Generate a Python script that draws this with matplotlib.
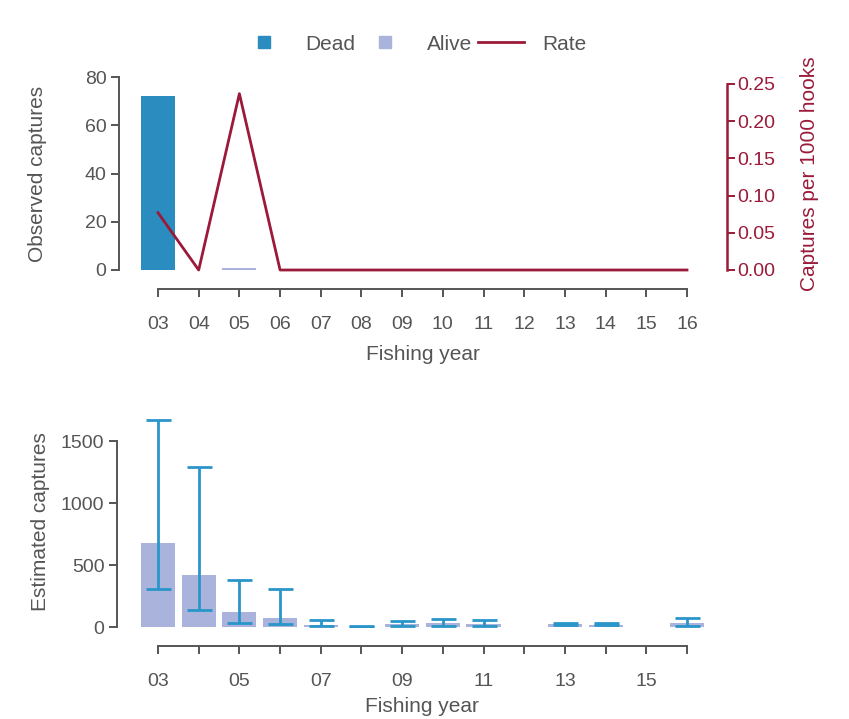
import numpy as np
import matplotlib.pyplot as plt
from matplotlib.lines import Line2D

plt.rcParams['font.family'] = ['Liberation Sans', 'DejaVu Sans']

# values
years = [3, 4, 5, 6, 7, 8, 9, 10, 11, 12, 13, 14, 15, 16]
year_labels = ['03', '04', '05', '06', '07', '08', '09', '10', '11', '12', '13', '14', '15', '16']
dead = [72, 0, 0, 0, 0, 0, 0, 0, 0, 0, 0, 0, 0, 0]
alive = [0, 0, 1, 0, 0, 0, 0, 0, 0, 0, 0, 0, 0, 0]
rate = [0.077, 0.0, 0.237, 0.0, 0.0, 0.0, 0.0, 0.0, 0.0, 0.0, 0.0, 0.0, 0.0, 0.0]

est_years = [3, 4, 5, 6, 7, 8, 9, 10, 11, 13, 14, 16]
est_mean = [680, 420, 120, 70, 15, 3, 25, 30, 25, 25, 20, 30]
est_low = [310, 140, 30, 25, 5, 0, 10, 10, 10, 20, 15, 10]
est_high = [1670, 1290, 380, 310, 60, 10, 45, 65, 60, 35, 30, 75]

DEAD = '#2a8cbf'
ALIVE = '#a9b3dc'
RATE = '#9b1a3a'
ERR = '#2a95c8'
GREY = '#555555'

TICK_FS = 14
LABEL_FS = 15

W, H = 849, 719
fig = plt.figure(figsize=(W / 100, H / 100), dpi=100)

px = (687 - 158) / 13.0


def style(ax, ymax_bound):
    for s in ['top', 'right']:
        ax.spines[s].set_visible(False)
    ax.spines['bottom'].set_position(('outward', 13.5))
    ax.spines['bottom'].set_bounds(3, 16)
    ax.spines['left'].set_bounds(0, ymax_bound)
    for s in ['left', 'bottom']:
        ax.spines[s].set_color(GREY)
        ax.spines[s].set_linewidth(1.4)
    ax.tick_params(colors=GREY, labelsize=TICK_FS, width=1.4, length=5.5)
    ax.tick_params(axis='x', pad=14)
    ax.xaxis.label.set_color(GREY)
    ax.yaxis.label.set_color(GREY)


# top panel
left, right = 119, 727
ax1 = fig.add_axes([left / W, (H - 270) / H, (right - left) / W, (270 - 77) / H])
ax1.bar(years, dead, width=0.84, color=DEAD)
ax1.bar(years, alive, width=0.84, bottom=dead, color=ALIVE)
ax1.set_xlim(3 - (158 - left) / px, 16 + (right - 687) / px)
ax1.set_ylim(0, 80)
ax1.set_yticks([0, 20, 40, 60, 80])
ax1.set_xticks(years)
ax1.set_xticklabels(year_labels)
ax1.set_xlabel('Fishing year', fontsize=LABEL_FS, labelpad=9)
ax1.set_ylabel('Observed captures', fontsize=LABEL_FS, labelpad=27)
style(ax1, 80)

ax2 = ax1.twinx()
ax2.plot(years, rate, color=RATE, lw=2, clip_on=False)
ax2.set_ylim(0, 0.25 * 193 / 186)
ax2.set_yticks([0, 0.05, 0.10, 0.15, 0.20, 0.25])
ax2.set_yticklabels(['%.2f' % v for v in [0, 0.05, 0.10, 0.15, 0.20, 0.25]])
for s in ['top', 'left', 'bottom']:
    ax2.spines[s].set_visible(False)
ax2.spines['right'].set_bounds(0, 0.25)
ax2.spines['right'].set_color(RATE)
ax2.spines['right'].set_linewidth(1.8)
ax2.tick_params(colors=RATE, labelsize=TICK_FS, width=1.4, length=5.5, pad=2)
ax2.set_ylabel('Captures per 1000 hooks', fontsize=LABEL_FS, color=RATE, labelpad=18)

handles = [
    Line2D([], [], marker='s', ls='none', color=DEAD, markersize=9),
    Line2D([], [], marker='s', ls='none', color=ALIVE, markersize=9),
    Line2D([], [], color=RATE, lw=2),
]
fig.legend(handles, ['Dead', 'Alive', 'Rate'], loc='center', bbox_to_anchor=(414 / W, (H - 44) / H),
           ncol=3, frameon=False, fontsize=LABEL_FS, labelcolor=GREY, handlelength=2.2,
           columnspacing=0.3, handletextpad=0.9)

# bottom panel
left_b = 117
ax3 = fig.add_axes([left_b / W, (H - 627) / H, (right - left_b) / W, (1700 * 186 / 1500) / H])
yerr = [np.array(est_mean) - np.array(est_low), np.array(est_high) - np.array(est_mean)]
ax3.bar(est_years, est_mean, width=0.84, color=ALIVE)
ax3.errorbar(est_years, est_mean, yerr=yerr, fmt='none', ecolor=ERR, elinewidth=2,
             capsize=9, capthick=2)
ax3.set_xlim(3 - (158 - left_b) / px, 16 + (right - 687) / px)
ax3.set_ylim(0, 1700)
ax3.set_yticks([0, 500, 1000, 1500])
ax3.set_xticks(years)
ax3.set_xticklabels([lab if i % 2 == 0 else '' for i, lab in enumerate(year_labels)])
ax3.set_xlabel('Fishing year', fontsize=LABEL_FS, labelpad=5)
ax3.set_ylabel('Estimated captures', fontsize=LABEL_FS, labelpad=8)
style(ax3, 1500)

fig.savefig('out.png', dpi=100)
